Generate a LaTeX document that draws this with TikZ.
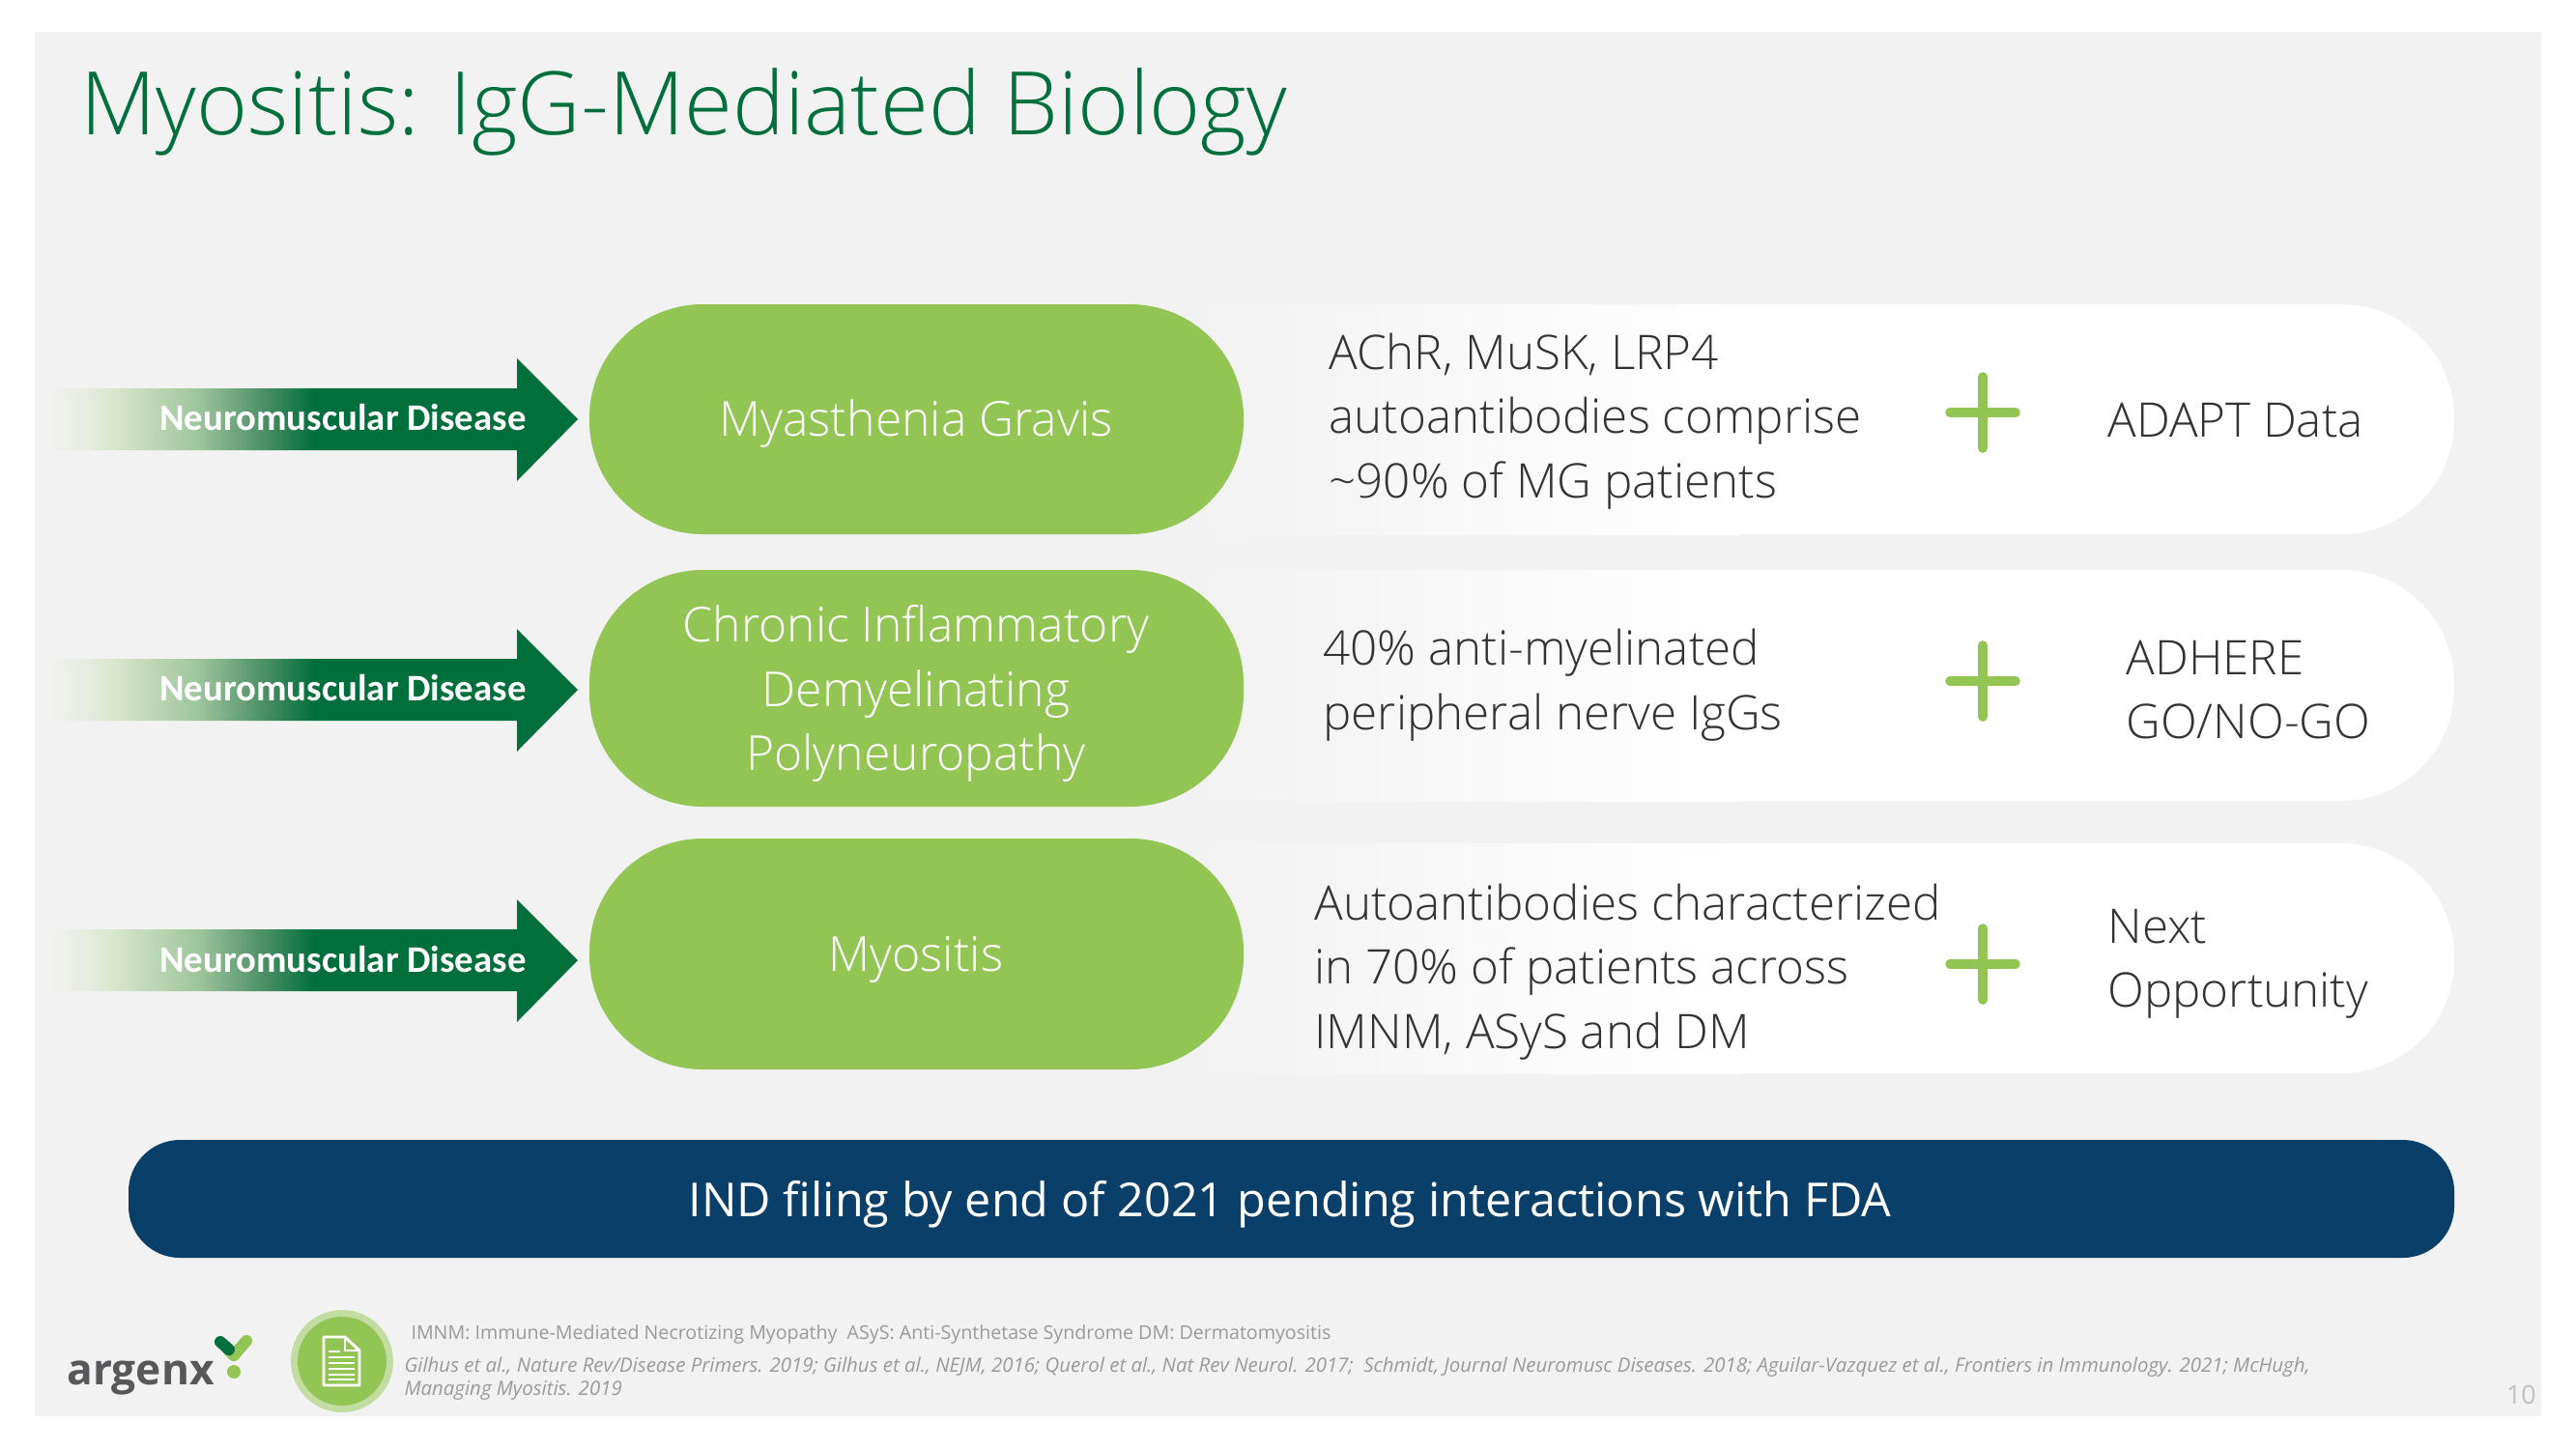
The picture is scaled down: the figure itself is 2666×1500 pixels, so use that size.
\documentclass[tikz,border=0pt]{standalone}
\usepackage{fontspec}
\setmainfont{Open Sans Light}
\newfontfamily\calf{Carlito}
\newfontfamily\osf{Open Sans}
\definecolor{bg}{HTML}{F2F2F2}
\definecolor{lime}{HTML}{92C553}
\definecolor{dkgreen}{HTML}{006F3C}
\definecolor{navy}{HTML}{0A3F69}
\definecolor{ink}{HTML}{333333}
\definecolor{foot}{HTML}{9A9A9A}
\definecolor{logogrey}{HTML}{58585A}
\definecolor{fadea}{HTML}{E6ECDF}
\definecolor{fadeb}{HTML}{D5E4C8}
\definecolor{fadec}{HTML}{9CC49A}
\definecolor{faded}{HTML}{4C8F66}
\pgfdeclarehorizontalshading{arrowfade}{100bp}{
  color(0bp)=(bg);
  color(25bp)=(bg);
  color(28.65bp)=(fadea);
  color(31.84bp)=(fadeb);
  color(39.3bp)=(fadec);
  color(45.3bp)=(faded);
  color(50.1bp)=(dkgreen);
  color(100bp)=(dkgreen)}
\tikzset{x=0.375pt,y=-0.375pt,
  body/.style={inner sep=0pt,anchor=west,align=left,text=ink,font=\fontsize{18.5}{24.9}\selectfont},
  pilltext/.style={inner sep=0pt,align=center,text=white,font=\fontsize{18.7}{24.9}\selectfont},
  arrowtext/.style={inner sep=0pt,text=white,font=\calf\bfseries\fontsize{14.55}{16}\selectfont},
  footn/.style={inner sep=0pt,anchor=west,align=left,text=foot,font=\osf\fontsize{7.36}{9}\selectfont},
  pillgreen/.style={fill=lime,rounded corners=44pt},
  pillwhite/.style={fill=white,rounded corners=44pt},
  plusbar/.style={draw=lime,line width=3.6pt,line cap=round},
}
\newcommand{\rowshape}[5]{% y1 y2 of green, y1 y2 of white, arrow cy
  \fill[pillwhite] (1350,#3) rectangle (2540,#4);
  \shade[left color=bg,right color=white] (1230,#3) rectangle (1800,#4);
  \fill[pillgreen] (610,#1) rectangle (1287,#2);
  \shade[shading=arrowfade] (50,#5-32) -- (535,#5-32) -- (535,#5-63) -- (598,#5) -- (535,#5+64) -- (535,#5+32) -- (50,#5+32) -- cycle;
}
\newcommand{\plusmark}[1]{%
  \draw[plusbar] (2052,#1-37) -- (2052,#1+37);
  \draw[plusbar] (2018,#1) -- (2086,#1);
}
\begin{document}
\begin{tikzpicture}
\useasboundingbox (0,0) rectangle (2666,1500);
\fill[white] (0,0) rectangle (2666,1500);
\fill[bg] (36,33) rectangle (2630,1466);
\node[inner sep=0pt,anchor=west,text=dkgreen,font=\fontsize{34}{38}\selectfont] (title) at (83,116) {Myositis: IgG-Mediated Biology};
\rowshape{315}{553}{315}{553}{434}
\rowshape{590}{835}{590}{829}{714}
\rowshape{868}{1107}{873}{1111}{994}
\node[arrowtext] (a1) at (355,432) {Neuromuscular Disease};
\node[arrowtext] (b1) at (355,712) {Neuromuscular Disease};
\node[arrowtext] (c1) at (355,993) {Neuromuscular Disease};
\node[pilltext] (a2) at (948,439) {Myasthenia Gravis};
\node[pilltext] (b2) at (948,718) {Chronic Inflammatory\\Demyelinating\\Polyneuropathy};
\node[pilltext] (c2) at (948,993) {Myositis};
\node[body] (a3) at (1375,436) {AChR, MuSK, LRP4\\autoantibodies comprise\\\textasciitilde90\% of MG patients};
\node[body] (b3) at (1369,709) {40\% anti-myelinated\\peripheral nerve IgGs};
\node[body] (c3) at (1360,1006) {Autoantibodies characterized\\in 70\% of patients across\\IMNM, ASyS and DM};
\plusmark{427}
\plusmark{705}
\plusmark{998}
\node[body] (a4) at (2181,435) {ADAPT Data};
\node[body] (b4) at (2200,714) {ADHERE\\GO/NO-GO};
\node[body] (c4) at (2181,998) {Next\\Opportunity};
\fill[navy,rounded corners=20pt] (133,1180) rectangle (2540,1302);
\node[inner sep=0pt,text=white,font=\osf\fontsize{18.2}{22}\selectfont] (ind) at (1335,1247) {IND filing by end of 2021 pending interactions with FDA};
% logo
\node[inner sep=0pt,anchor=base west,text=logogrey,font=\osf\bfseries\fontsize{16.6}{20}\selectfont] (logo) at (69,1433) {argenx};
\draw[lime,line width=4.5pt,line cap=round,line join=round] (236,1397) -- (242,1403) -- (255,1388);
\draw[dkgreen,line width=4.5pt,line cap=round] (228,1389) -- (237,1397);
\fill[lime] (242,1420) circle (7);
% icon
\fill[lime!50!bg] (354,1409) circle (53);
\fill[lime] (354,1409) circle (46);
\draw[white,line width=1.1pt,line join=round] (335,1384) -- (357,1384) -- (372,1398) -- (372,1434) -- (335,1434) -- cycle;
\draw[white,line width=1pt] (357,1384) -- (357,1398) -- (372,1398);
\foreach \yy in {1405,1411,1417,1423,1428}{\draw[white,line width=.8pt] (340,\yy) -- (367,\yy);}
\draw[white,line width=.8pt] (340,1399) -- (352,1399);
\node[footn] (f1) at (425,1381) {IMNM: Immune-Mediated Necrotizing Myopathy~ ASyS: Anti-Synthetase Syndrome DM: Dermatomyositis};
\node[footn,font=\osf\itshape\fontsize{7.66}{9}\selectfont] (f2) at (418,1427) {Gilhus et al., Nature Rev/Disease Primers. 2019; Gilhus et al., NEJM, 2016; Querol et al., Nat Rev Neurol. 2017;~ Schmidt, Journal Neuromusc Diseases. 2018; Aguilar-Vazquez et al., Frontiers in Immunology. 2021; McHugh,\\Managing Myositis. 2019};
\node[inner sep=0pt,anchor=east,text=black!25,font=\osf\fontsize{10}{12}\selectfont] (pg) at (2625,1444) {10};
\end{tikzpicture}
\end{document}
